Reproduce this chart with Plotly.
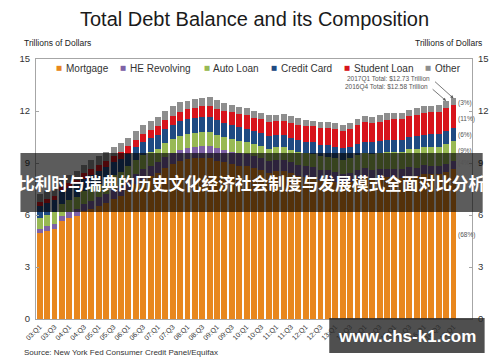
import plotly.graph_objects as go

quarters = [f"{y:02d}:Q{q}" for y in range(3, 18) for q in range(1, 5)][:57]

mortgage = [4.94, 5.08, 5.18, 5.66, 5.84, 5.97, 6.21, 6.36, 6.51, 6.70, 6.91, 7.10,
            7.44, 7.76, 8.04, 8.23, 8.42, 8.71, 8.93, 9.10, 9.23, 9.27, 9.29, 9.26,
            9.14, 9.06, 8.94, 8.84, 8.83, 8.71, 8.61, 8.45, 8.54, 8.53, 8.40, 8.27,
            8.19, 8.15, 8.03, 8.03, 7.93, 7.84, 7.90, 8.05, 8.17, 8.10, 8.13, 8.17,
            8.17, 8.12, 8.26, 8.25, 8.37, 8.36, 8.35, 8.48, 8.63]
he_revolving = [0.24, 0.26, 0.29, 0.30, 0.33, 0.37, 0.43, 0.47, 0.53, 0.54, 0.57, 0.58,
                0.58, 0.59, 0.60, 0.60, 0.61, 0.61, 0.62, 0.63, 0.65, 0.67, 0.69, 0.71,
                0.71, 0.71, 0.71, 0.71, 0.69, 0.68, 0.67, 0.66, 0.64, 0.64, 0.63, 0.62,
                0.61, 0.60, 0.58, 0.56, 0.55, 0.54, 0.54, 0.53, 0.53, 0.52, 0.52, 0.51,
                0.51, 0.51, 0.50, 0.49, 0.49, 0.48, 0.47, 0.47, 0.46]
auto_loan = [0.64, 0.64, 0.68, 0.70, 0.70, 0.72, 0.73, 0.77, 0.77, 0.80, 0.82, 0.82,
             0.79, 0.80, 0.82, 0.82, 0.80, 0.81, 0.82, 0.82, 0.79, 0.80, 0.80, 0.79,
             0.77, 0.74, 0.74, 0.72, 0.71, 0.71, 0.71, 0.71, 0.73, 0.73, 0.73, 0.75,
             0.75, 0.77, 0.78, 0.78, 0.81, 0.81, 0.84, 0.86, 0.88, 0.91, 0.93, 0.96,
             0.97, 1.00, 1.03, 1.06, 1.07, 1.09, 1.11, 1.13, 1.16]
credit_card = [0.69, 0.69, 0.69, 0.72, 0.69, 0.70, 0.71, 0.73, 0.71, 0.72, 0.73, 0.75,
               0.73, 0.75, 0.77, 0.80, 0.79, 0.82, 0.84, 0.87, 0.84, 0.85, 0.86, 0.87,
               0.84, 0.82, 0.81, 0.80, 0.76, 0.74, 0.73, 0.73, 0.70, 0.70, 0.70, 0.70,
               0.68, 0.68, 0.67, 0.68, 0.66, 0.67, 0.67, 0.68, 0.66, 0.67, 0.68, 0.70,
               0.68, 0.70, 0.71, 0.73, 0.71, 0.73, 0.75, 0.78, 0.76]
student_loan = [0.24, 0.24, 0.25, 0.25, 0.26, 0.26, 0.33, 0.35, 0.36, 0.37, 0.38, 0.39,
                0.43, 0.44, 0.46, 0.48, 0.51, 0.51, 0.53, 0.55, 0.58, 0.61, 0.64, 0.65,
                0.68, 0.69, 0.72, 0.76, 0.76, 0.76, 0.79, 0.81, 0.83, 0.85, 0.87, 0.87,
                0.90, 0.91, 0.96, 0.97, 0.99, 0.99, 1.03, 1.08, 1.11, 1.12, 1.13, 1.16,
                1.19, 1.19, 1.20, 1.23, 1.26, 1.26, 1.28, 1.31, 1.34]
other = [0.48, 0.49, 0.48, 0.51, 0.50, 0.50, 0.50, 0.52, 0.50, 0.51, 0.50, 0.51,
         0.50, 0.50, 0.50, 0.52, 0.51, 0.52, 0.54, 0.54, 0.51, 0.51, 0.45, 0.50,
         0.48, 0.46, 0.45, 0.41, 0.40, 0.40, 0.40, 0.39, 0.35, 0.36, 0.36, 0.36,
         0.35, 0.34, 0.34, 0.36, 0.34, 0.34, 0.35, 0.35, 0.35, 0.35, 0.36, 0.37,
         0.36, 0.37, 0.38, 0.39, 0.37, 0.38, 0.39, 0.39, 0.38]

series_names = ["Mortgage", "HE Revolving", "Auto Loan", "Credit Card", "Student Loan", "Other"]
series_values = [mortgage, he_revolving, auto_loan, credit_card, student_loan, other]
colors = ["#E8871E", "#7E62A6", "#98B954", "#1F4A82", "#D7141C", "#8E8E8E"]

share_labels = ["(68%)", "(4%)", "(9%)", "(6%)", "(11%)", "(3%)"]
share_label_y = [4.85, 9.0, 9.7, 10.6, 11.55, 12.46]

tick_labels = quarters[::2]

total_notes = ["2017Q1 Total: $12.73 Trillion", "2016Q4 Total: $12.58 Trillion"]
total_quarters = ["17:Q1", "16:Q4"]
total_values = [12.73, 12.58]

title_text = "Total Debt Balance and its Composition"
banner_text = "比利时与瑞典的历史文化经济社会制度与发展模式全面对比分析"
watermark_text = "www.chs-k1.com"
source_text = "Source: New York Fed Consumer Credit Panel/Equifax"

# the page body has an 8px margin; build the figure to fill the visible window
OFF = 8
W, H = 500 - OFF, 362 - OFF
PL, PR, PT, PB = 28, 477, 59, 319   # plot area in window pixels


def px(x):
    return (x - PL) / (PR - PL)


def py(y):
    return (PB - y) / (PB - PT)


FONT = "Liberation Sans, Arial, sans-serif"
CJK = "Noto Sans CJK SC, Noto Sans CJK JP, sans-serif"
AX = "#A6A6A6"

fig = go.Figure()
for name, vals, col in zip(series_names, series_values, colors):
    fig.add_trace(go.Bar(x=quarters, y=vals, name=name, marker_color=col,
                         marker_line_width=0, showlegend=False))
# empty trace so that the right-hand axis is drawn
fig.add_trace(go.Scatter(x=[quarters[0]], y=[None], yaxis="y2", mode="markers",
                         showlegend=False, hoverinfo="skip"))


def note(text, x, y, size, color="#333", xanchor="center", family=FONT, yref="paper"):
    return dict(text=text, x=px(x), y=(py(y) if yref == "paper" else y), xref="paper", yref=yref,
                xanchor=xanchor, yanchor="middle", showarrow=False,
                font=dict(size=size, color=color, family=family))


ann = []
ann.append(note(title_text, 252.5, 19, 20, "#1a1a1a"))
ann.append(note("Trillions of Dollars", 14, 43, 8.5, "#222", "left"))
ann.append(note("Trillions of Dollars", 489, 43, 8.5, "#222", "right"))
ann.append(note(source_text, 14, 352, 8, "#333", "left"))

# legend drawn as text
sq_x = [51.7, 118, 204.3, 272.8, 348.7, 432]
tx_x = [57, 123, 208.5, 278, 353, 437]
for name, col, sx, tx in zip(series_names, colors, sq_x, tx_x):
    ann.append(note("■", sx, 68.5, 6.5, col, "center", "DejaVu Sans"))
    ann.append(note(name, tx, 68.5, 10, "#333", "left"))

# share labels
for lab, yy in zip(share_labels, share_label_y):
    ann.append(note(lab, 460.5, yy, 6.5, "#555", "left", yref="y"))

# total notes and arrows
note_pos = [(436, 79), (433.5, 87)]
arrow_off = [(-20, -18), (-15, -13)]
for txt, (nx, ny) in zip(total_notes, note_pos):
    ann.append(note(txt, nx, ny, 6.5, "#555", "right"))
for q, v, (axo, ayo) in zip(total_quarters, total_values, arrow_off):
    ann.append(dict(text="", x=q, y=v, xref="x", yref="y", showarrow=True,
                    ax=axo, ay=ayo, arrowhead=2, arrowsize=0.8, arrowwidth=0.8,
                    arrowcolor="#555"))

# overlays
ann.append(note("<b>" + banner_text + "</b>", 250.5, 183, 16.7, "white", "center", CJK))
ann.append(note("<b>" + watermark_text + "</b>", 410, 336.5, 17, "white", "center"))

shapes = [
    dict(type="rect", xref="paper", yref="paper", x0=px(12), x1=px(488), y0=py(212), y1=py(153),
         fillcolor="rgba(0,0,0,0.64)", line=dict(width=0), layer="above"),
    dict(type="rect", xref="paper", yref="paper", x0=px(330), x1=px(490), y0=py(353), y1=py(318),
         fillcolor="rgba(40,40,40,0.82)", line=dict(width=0), layer="above"),
]

yax = dict(range=[0, 15], dtick=3, showgrid=False, zeroline=False, showline=True,
           linecolor=AX, linewidth=1, ticks="inside", ticklen=3, tickcolor=AX,
           tickfont=dict(size=9.5, color="#333", family=FONT), ticklabelstandoff=3)

fig.update_layout(
    width=W, height=H, barmode="stack", bargap=0.2,
    paper_bgcolor="white", plot_bgcolor="white",
    margin=dict(l=PL - OFF, r=500 - PR, t=PT - OFF, b=362 - PB),
    showlegend=False,
    xaxis=dict(type="category", categoryorder="array", categoryarray=quarters,
               range=[-0.5, 58.5], showline=True, mirror=True, linecolor=AX, linewidth=1,
               showgrid=False, ticks="", tickmode="array", tickvals=tick_labels, ticktext=tick_labels,
               tickangle=-45, tickfont=dict(size=7, color="#333", family=FONT)),
    yaxis=dict(**yax, mirror=True),
    yaxis2=dict(**yax, overlaying="y", side="right"),
    annotations=ann, shapes=shapes,
)

fig.write_html("out.html")
